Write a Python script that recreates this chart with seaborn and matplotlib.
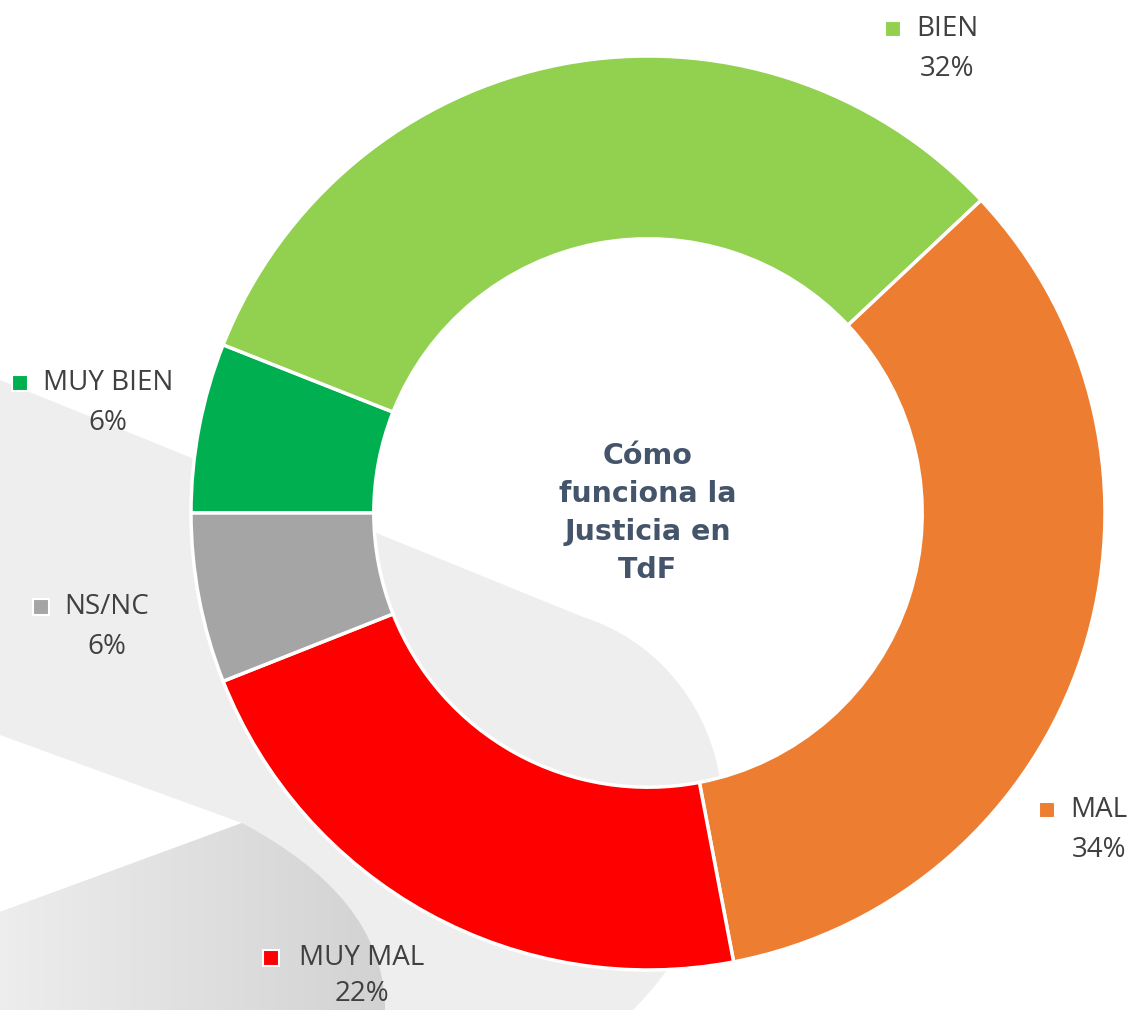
import numpy as np
import matplotlib
matplotlib.use("Agg")
import matplotlib.pyplot as plt
from matplotlib.path import Path
from matplotlib.patches import PathPatch, Polygon
from matplotlib.colors import LinearSegmentedColormap
import seaborn as sns

# ---- data ----
categories = ["MUY BIEN", "BIEN", "MAL", "MUY MAL", "NS/NC"]
values = [6, 32, 34, 22, 6]
colors = ["#00B050", "#92D050", "#ED7D31", "#FF0000", "#A5A5A5"]
center_title = "Cómo\nfunciona la\nJusticia en\nTdF"

# ---- layout (pixel positions of the labels: name centre x, name y, marker x, pct gap) ----
label_layout = {
    "BIEN": (947, 29, 893, 40),
    "MUY BIEN": (108, 383, 20, 40),
    "NS/NC": (107, 607, 41, 40),
    "MAL": (1099, 810, 1047, 40),
    "MUY MAL": (362, 958, 271, 36),
}

sns.set_theme(style="white")
plt.rcParams["font.family"] = ["Open Sans", "DejaVu Sans"]

W, H = 1131, 1010
fig = plt.figure(figsize=(W / 100, H / 100), dpi=100)
fig.patch.set_facecolor("white")

# background decorative axes in pixel coords
bg = fig.add_axes([0, 0, 1, 1])
bg.set_xlim(0, W)
bg.set_ylim(H, 0)
bg.axis("off")

# light gray band
verts = [(0, 380), (583, 617), (720, 660), (790, 850), (633, 1010), (0, 1010), (0, 380)]
codes = [Path.MOVETO, Path.LINETO, Path.CURVE4, Path.CURVE4, Path.CURVE4, Path.LINETO, Path.CLOSEPOLY]
bg.add_patch(PathPatch(Path(verts, codes), facecolor="#EEEEEE", edgecolor="none", zorder=1))
# white gap triangle
bg.add_patch(Polygon([(0, 735), (242, 823), (0, 912)], closed=True, facecolor="white",
                     edgecolor="none", zorder=2))
# darker gradient shape
verts2 = [(0, 912), (242, 823), (330, 870), (385, 930), (385, 1010), (0, 1010), (0, 912)]
codes2 = [Path.MOVETO, Path.LINETO, Path.CURVE4, Path.CURVE4, Path.CURVE4, Path.LINETO, Path.CLOSEPOLY]
dark_patch = PathPatch(Path(verts2, codes2), facecolor="none", edgecolor="none", zorder=3)
bg.add_patch(dark_patch)
grad = np.tile(np.linspace(0, 1, 256), (2, 1))
cmap = LinearSegmentedColormap.from_list("g", ["#EDEDED", "#D2D2D2"])
im = bg.imshow(grad, extent=(0, 390, 1010, 820), cmap=cmap, aspect="auto", zorder=3,
               interpolation="bilinear")
im.set_clip_path(dark_patch)
bg.set_xlim(0, W)
bg.set_ylim(H, 0)

# donut
cx, cy, R = 648, 513, 457
pad = 1.03
size = 2 * R * pad
ax = fig.add_axes([(cx - R * pad) / W, (H - cy - R * pad) / H, size / W, size / H])
ax.set_facecolor("none")
ax.pie(values, colors=colors, startangle=180, counterclock=False, radius=1,
       wedgeprops=dict(width=0.4, edgecolor="white", linewidth=2.5))
ax.set_xlim(-pad, pad)
ax.set_ylim(-pad, pad)
ax.set_aspect("equal")
ax.axis("off")
ax.text(0, 0.0, center_title, ha="center", va="center", fontsize=20.5, fontweight="bold",
        color="#44546A", linespacing=1.45, family=["DejaVu Sans"])

# labels
for cat, val, col in zip(categories, values, colors):
    tx, ty, mx, gap = label_layout[cat]
    bg.plot([mx], [ty], marker="s", markersize=12, markerfacecolor=col,
            markeredgecolor="white", markeredgewidth=1.5, zorder=6)
    bg.text(tx, ty, cat, ha="center", va="center", fontsize=20, color="#404040", zorder=6)
    bg.text(tx, ty + gap, f"{val}%", ha="center", va="center", fontsize=20, color="#404040", zorder=6)

fig.savefig("out.png", dpi=100, facecolor="white")
